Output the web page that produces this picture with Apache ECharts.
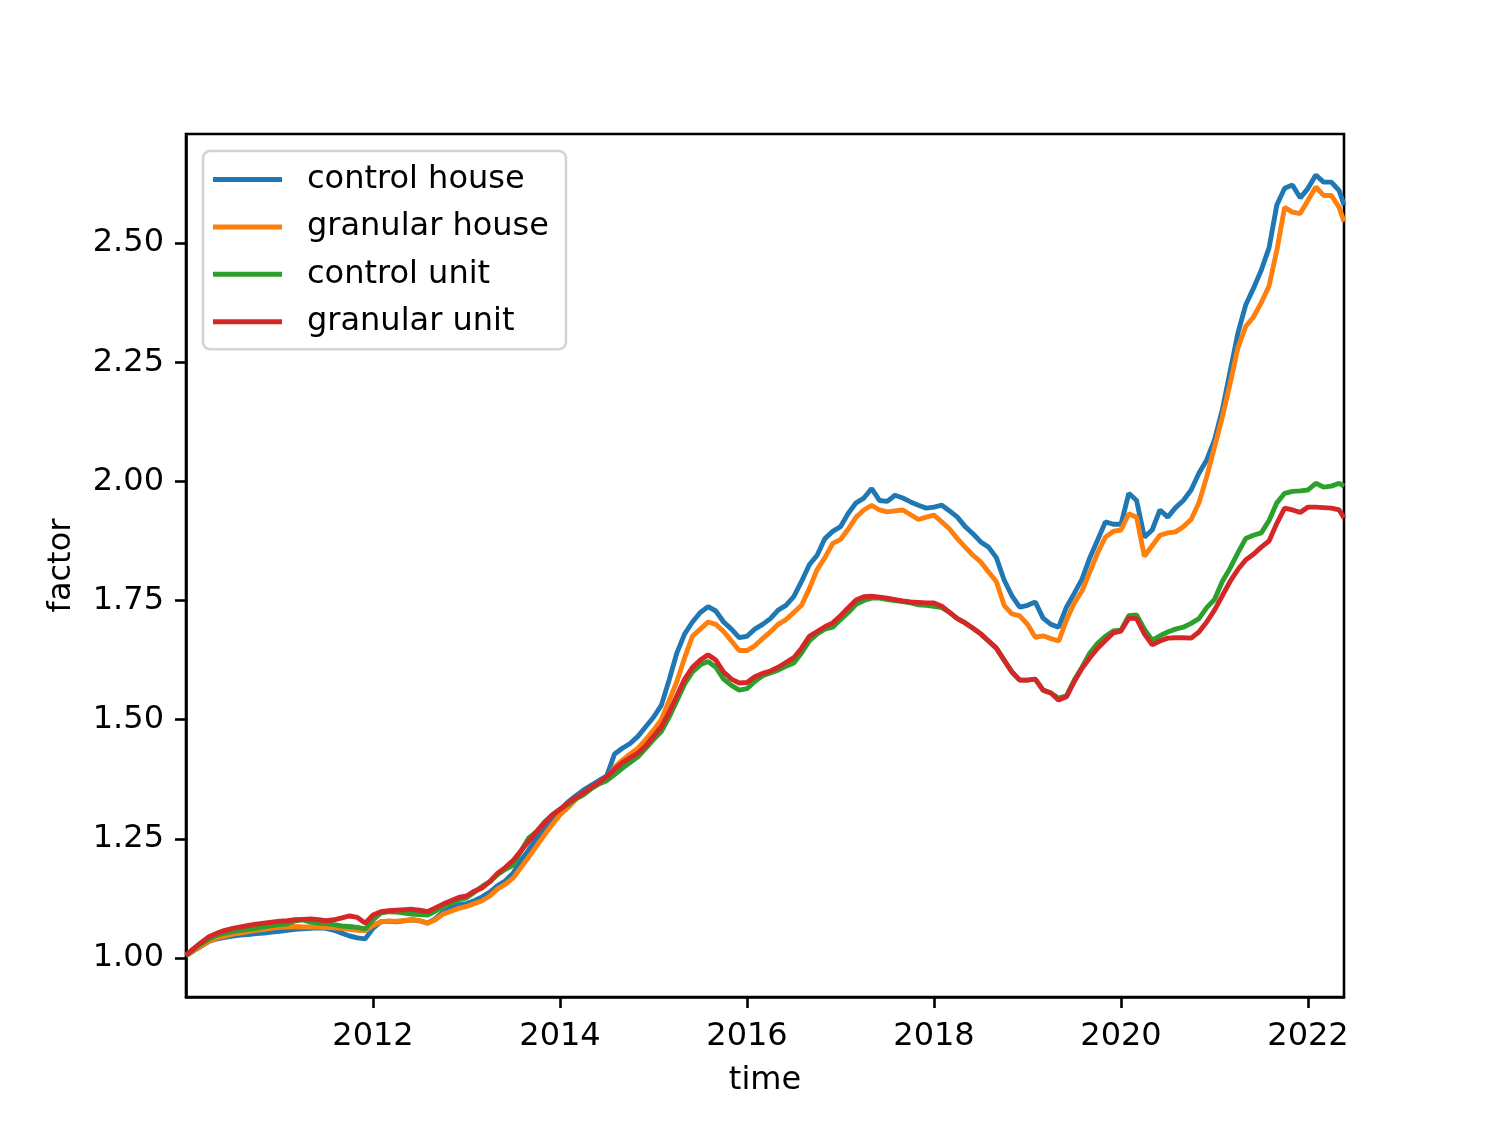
<!DOCTYPE html>
<html>
<head>
<meta charset="utf-8">
<script src="https://cdn.jsdelivr.net/npm/echarts@6/dist/echarts.min.js"></script>
<style>
html,body{margin:0;padding:0;background:#fff;}
#chart{width:1494px;height:1121px;}
</style>
</head>
<body>
<div id="chart"></div>
<script>
// Series names
const seriesNames = ['control house', 'granular house', 'control unit', 'granular unit'];
// X tick labels (years)
const xTicks = [2012, 2014, 2016, 2018, 2020, 2022];
// Y tick labels
const yTicks = [1.00, 1.25, 1.50, 1.75, 2.00, 2.25, 2.50];

// Dates: first of each month 2010-01 .. 2022-05, plus final observation
const dates = [];
for (let y = 2010; y <= 2022; y++) {
  for (let m = 1; m <= 12; m++) {
    if (y === 2022 && m > 5) break;
    dates.push(y + '-' + String(m).padStart(2, '0') + '-01');
  }
}
dates.push('2022-05-20');

const controlHouse = [
  1.005,1.015,1.025,1.035,1.040,1.043,1.046,1.048,1.049,1.051,1.052,1.054,
  1.056,1.058,1.060,1.061,1.062,1.063,1.062,1.058,1.052,1.046,1.042,1.040,
  1.062,1.076,1.077,1.076,1.078,1.080,1.078,1.073,1.082,1.097,1.104,1.111,
  1.114,1.120,1.128,1.138,1.152,1.162,1.178,1.205,1.227,1.250,1.270,1.290,
  1.310,1.327,1.340,1.352,1.362,1.372,1.382,1.428,1.440,1.450,1.465,1.485,
  1.505,1.530,1.583,1.640,1.680,1.705,1.725,1.737,1.728,1.705,1.690,1.672,
  1.675,1.690,1.700,1.712,1.730,1.740,1.758,1.790,1.825,1.845,1.880,1.895,
  1.905,1.933,1.955,1.965,1.985,1.960,1.958,1.971,1.965,1.957,1.950,1.944,
  1.946,1.950,1.938,1.925,1.905,1.890,1.873,1.862,1.840,1.793,1.760,1.736,
  1.740,1.747,1.713,1.700,1.694,1.736,1.765,1.795,1.840,1.877,1.915,1.910,
  1.910,1.975,1.960,1.883,1.898,1.940,1.925,1.945,1.960,1.982,2.017,2.045,
  2.087,2.150,2.230,2.311,2.370,2.405,2.443,2.490,2.580,2.615,2.622,2.595,
  2.615,2.643,2.628,2.628,2.610,2.580
];
const granularHouse = [
  1.005,1.015,1.025,1.035,1.042,1.046,1.050,1.052,1.055,1.058,1.060,1.062,
  1.064,1.065,1.066,1.065,1.065,1.065,1.064,1.063,1.062,1.060,1.058,1.057,
  1.068,1.076,1.077,1.077,1.078,1.080,1.078,1.073,1.080,1.092,1.098,1.104,
  1.108,1.114,1.120,1.130,1.145,1.155,1.168,1.190,1.212,1.235,1.258,1.280,
  1.300,1.315,1.332,1.346,1.356,1.366,1.377,1.400,1.415,1.428,1.440,1.458,
  1.478,1.500,1.540,1.580,1.630,1.675,1.690,1.705,1.700,1.685,1.665,1.645,
  1.645,1.655,1.670,1.684,1.700,1.710,1.725,1.740,1.775,1.815,1.840,1.870,
  1.878,1.900,1.925,1.940,1.950,1.940,1.936,1.938,1.940,1.930,1.920,1.925,
  1.929,1.915,1.900,1.880,1.862,1.845,1.831,1.810,1.790,1.740,1.722,1.718,
  1.700,1.673,1.676,1.670,1.665,1.709,1.745,1.770,1.810,1.850,1.883,1.895,
  1.898,1.932,1.925,1.843,1.865,1.887,1.892,1.894,1.905,1.920,1.955,2.010,
  2.072,2.135,2.205,2.280,2.325,2.345,2.375,2.410,2.485,2.575,2.565,2.562,
  2.590,2.618,2.600,2.600,2.575,2.545
];
const controlUnit = [
  1.005,1.018,1.030,1.040,1.048,1.052,1.055,1.058,1.060,1.062,1.065,1.068,
  1.070,1.071,1.078,1.080,1.075,1.073,1.072,1.070,1.067,1.066,1.064,1.061,
  1.080,1.094,1.097,1.096,1.094,1.092,1.091,1.090,1.098,1.108,1.114,1.122,
  1.126,1.138,1.150,1.160,1.175,1.186,1.195,1.225,1.252,1.265,1.285,1.300,
  1.312,1.322,1.334,1.342,1.355,1.365,1.372,1.385,1.398,1.410,1.422,1.440,
  1.458,1.475,1.505,1.540,1.575,1.600,1.615,1.622,1.610,1.585,1.572,1.562,
  1.565,1.580,1.592,1.598,1.604,1.612,1.619,1.640,1.665,1.680,1.690,1.694,
  1.710,1.725,1.742,1.750,1.755,1.755,1.752,1.750,1.748,1.745,1.741,1.740,
  1.738,1.735,1.725,1.712,1.703,1.692,1.680,1.665,1.650,1.625,1.600,1.583,
  1.583,1.585,1.562,1.556,1.545,1.550,1.583,1.610,1.640,1.660,1.675,1.686,
  1.688,1.718,1.720,1.690,1.667,1.676,1.684,1.690,1.694,1.702,1.712,1.735,
  1.752,1.790,1.818,1.850,1.880,1.887,1.892,1.918,1.955,1.975,1.979,1.980,
  1.982,1.996,1.988,1.990,1.996,1.990
];
const granularUnit = [
  1.006,1.020,1.033,1.045,1.052,1.058,1.062,1.065,1.068,1.071,1.073,1.075,
  1.077,1.078,1.080,1.081,1.082,1.080,1.078,1.080,1.084,1.088,1.085,1.073,
  1.090,1.097,1.099,1.100,1.101,1.102,1.100,1.097,1.105,1.113,1.120,1.127,
  1.130,1.140,1.147,1.160,1.178,1.190,1.205,1.225,1.245,1.265,1.283,1.300,
  1.312,1.325,1.336,1.346,1.358,1.368,1.380,1.396,1.410,1.420,1.430,1.445,
  1.465,1.485,1.515,1.550,1.585,1.610,1.625,1.636,1.625,1.600,1.585,1.577,
  1.578,1.590,1.597,1.602,1.610,1.620,1.630,1.650,1.675,1.685,1.695,1.703,
  1.718,1.735,1.751,1.758,1.759,1.757,1.755,1.752,1.749,1.747,1.746,1.745,
  1.745,1.738,1.725,1.712,1.703,1.692,1.680,1.665,1.650,1.625,1.600,1.583,
  1.583,1.585,1.562,1.556,1.541,1.548,1.580,1.608,1.630,1.650,1.666,1.682,
  1.686,1.713,1.712,1.680,1.657,1.665,1.671,1.672,1.672,1.671,1.684,1.705,
  1.730,1.760,1.790,1.815,1.835,1.847,1.862,1.875,1.912,1.944,1.940,1.935,
  1.946,1.946,1.945,1.944,1.940,1.923
];

const colors = ['#1f77b4', '#ff7f0e', '#2ca02c', '#d62728'];
const allValues = [controlHouse, granularHouse, controlUnit, granularUnit];

function decYear(s) {
  const p = s.split('-').map(Number);
  return p[0] + (p[1] - 1) / 12 + (p[2] - 1) / 365;
}
const xs = dates.map(decYear);

const FONT = 'DejaVu Sans';
const chart = echarts.init(document.getElementById('chart'), null, {renderer: 'canvas'});
chart.setOption({
  animation: false,
  backgroundColor: '#ffffff',
  grid: {
    left: 186, top: 134, width: 1158, height: 863,
    show: true, borderColor: '#000', borderWidth: 2.6, backgroundColor: 'transparent'
  },
  legend: {
    orient: 'vertical',
    left: 203, top: 151,
    padding: [10, 17, 9, 10],
    itemWidth: 69, itemHeight: 5,
    itemGap: 10.4,
    icon: 'rect',
    backgroundColor: '#fff',
    borderColor: '#d4d4d4', borderWidth: 2.6, borderRadius: 7,
    textStyle: {fontFamily: FONT, fontSize: 32, color: '#000', lineHeight: 37, padding: [0, 0, 0, 20]},
    data: seriesNames
  },
  xAxis: {
    type: 'value', min: 2010, max: 2022.385,
    name: 'time', nameLocation: 'middle', nameGap: 68,
    nameTextStyle: {fontFamily: FONT, fontSize: 32, color: '#000'},
    axisLine: {show: true, lineStyle: {color: '#000', width: 2.6}},
    axisTick: {show: true, inside: false, length: 11, lineStyle: {color: '#000', width: 2.6}, customValues: xTicks},
    axisLabel: {fontFamily: FONT, fontSize: 32, color: '#000', margin: 24, customValues: xTicks, formatter: v => String(Math.round(v))},
    splitLine: {show: false}
  },
  yAxis: {
    type: 'value', min: 0.918, max: 2.729,
    name: 'factor', nameLocation: 'middle', nameGap: 108, nameRotate: 90,
    nameTextStyle: {fontFamily: FONT, fontSize: 32, color: '#000'},
    axisLine: {show: true, lineStyle: {color: '#000', width: 2.6}},
    axisTick: {show: true, inside: false, length: 11, lineStyle: {color: '#000', width: 2.6}, customValues: yTicks},
    axisLabel: {fontFamily: FONT, fontSize: 32, color: '#000', margin: 22, customValues: yTicks, formatter: v => v.toFixed(2)},
    splitLine: {show: false}
  },
  series: seriesNames.map((n, i) => ({
    name: n,
    type: 'line',
    showSymbol: false,
    symbol: 'none',
    color: colors[i],
    lineStyle: {width: 4.9, color: colors[i]},
    data: xs.map((x, j) => [x, allValues[i][j]]),
    clip: true
  }))
});
</script>
</body>
</html>
